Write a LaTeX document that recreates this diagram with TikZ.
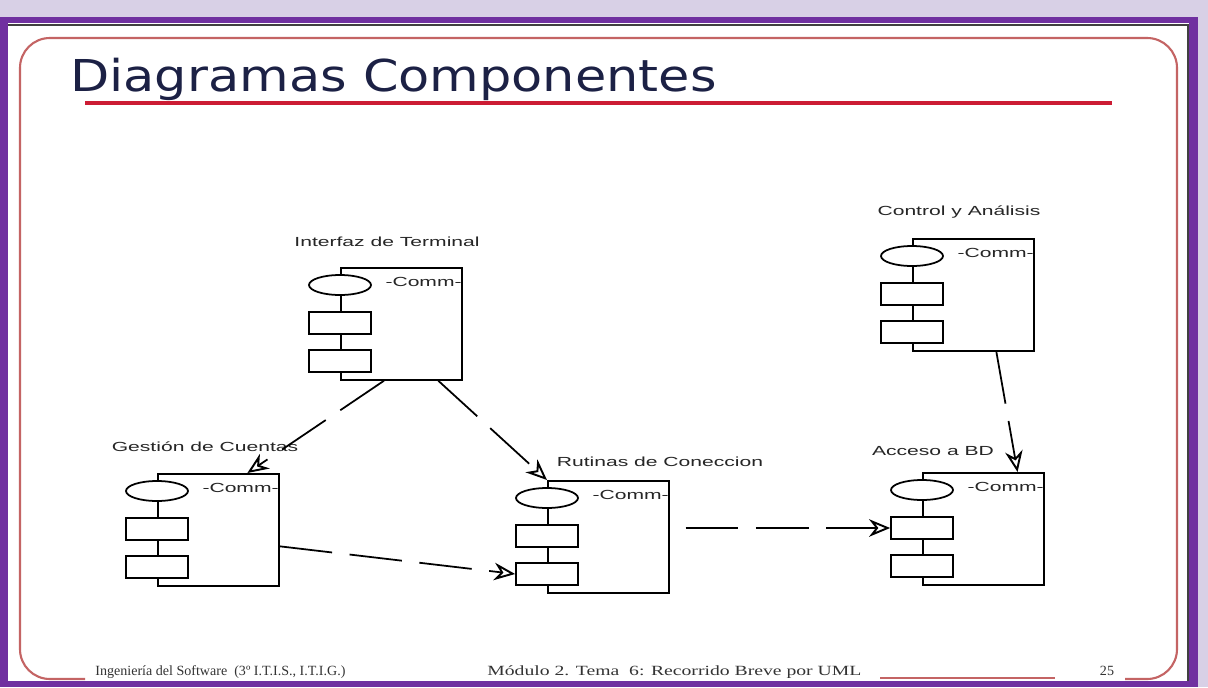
\documentclass[tikz,border=0pt]{standalone}
\usepackage{fontspec}
\setmainfont{Liberation Sans}
\newfontfamily\fontetichetta[FakeStretch=1.6]{Liberation Sans}
\newfontfamily\fonttitolo[FakeStretch=1.16]{DejaVu Sans}
\newfontfamily\fontpiede{Liberation Serif}
\usetikzlibrary{shapes.geometric, arrows.meta, calc}
\definecolor{viola}{RGB}{112,48,160}
\definecolor{lavanda}{RGB}{216,208,230}
\definecolor{cornice}{RGB}{196,100,100}
\definecolor{rosso}{RGB}{204,28,52}
\definecolor{blutitolo}{RGB}{28,33,69}

\tikzset{
    caja/.style = {draw, line width=1pt, minimum width=2.42cm, minimum height=2.24cm, inner sep=0pt},
    ovalo/.style = {ellipse, draw, fill=white, line width=1pt, minimum width=1.24cm, minimum height=0.40cm, inner sep=0pt},
    modulo/.style = {rectangle, draw, fill=white, line width=1pt, minimum width=1.24cm, minimum height=0.44cm, inner sep=0pt},
    etq/.style = {font=\fontetichetta\fontsize{7.5pt}{9pt}\selectfont, text=black!85, inner sep=0pt},
    piede/.style = {font=\fontpiede\fontsize{8pt}{9pt}\selectfont, text=black!80, inner sep=0pt},
    dipendenza/.style = {line width=1pt, dash pattern=on 30pt off 10pt, -{Stealth[open, length=12pt, width=10pt, line width=1.1pt]}}
}

\begin{document}
\begin{tikzpicture}[x=0.02cm, y=-0.02cm]
    % Parametri
    \pgfmathsetmacro{\larg}{121}
    \pgfmathsetmacro{\raggio}{17}
    \useasboundingbox (0,0) rectangle (1208,687);
    % Sfondo e bordo
    \fill[lavanda] (0,0) rectangle (1208,687);
    \fill[viola] (0,17) rectangle (1198,687);
    \fill[white] (8,23) rectangle (1189,681);
    \draw[black!75, line width=0.8pt] (8,25) -- (1188,25) -- (1188,681);
    \draw[cornice, line width=1.2pt, rounded corners=\raggio pt] (85,679) -- (20,679) -- (20,38) -- (1177,38) -- (1177,679) -- (1125,679);
    \draw[cornice, line width=1.2pt] (880,678) -- (1055,678);

    % Titolo
    \node[anchor=base west, inner sep=0pt, text=blutitolo, font=\fonttitolo\fontsize{25pt}{30pt}\selectfont] (titolo) at (70,91) {Diagramas Componentes};
    \draw[rosso, line width=2.3pt] (85,103) -- (1112,103);

    % Componenti
    \foreach \nome/\x/\y in {interfaz/340/267, gestion/157/473, rutinas/547/480, control/912/238, acceso/922/472}{
        \node[caja, anchor=north west] (\nome) at (\x,\y) {};
        \node[etq, anchor=east] (\nome-c) at (\x+\larg+1,\y+15) {-Comm-};
        \node[ovalo] (\nome-o) at (\x,\y+18) {};
        \node[modulo] (\nome-a) at (\x,\y+56) {};
        \node[modulo] (\nome-b) at (\x,\y+94) {};
    }
    \node[etq] (interfaz-t) at (387,242) {Interfaz de Terminal};
    \node[etq] (control-t) at (959,212) {Control y Análisis};
    \node[etq] (gestion-t) at (205,447) {Gestión de Cuentas};
    \node[etq] (rutinas-t) at (660,462) {Rutinas de Coneccion};
    \node[etq] (acceso-t) at (933,451) {Acceso a BD};

    % Dipendenze
    \draw[dipendenza] (interfaz.253) -- (gestion.63);
    \draw[dipendenza] (interfaz.303) -- (rutinas.north west);
    \draw[dipendenza] (gestion.-15) -- (rutinas-b.west);
    \draw[dipendenza, shorten <=9pt] (rutinas.east |- acceso-a.west) -- (acceso-a.west);
    \draw[dipendenza] (control.292) -- (acceso.59);

    % Piede
    \node[piede, anchor=base west] (piede-a) at (95,675) {Ingeniería del Software\ \ (3º I.T.I.S., I.T.I.G.)};
    \node[piede, anchor=base west] (piede-b) at (487,675) {\scalebox{1.4}[1]{Módulo 2. Tema\ \ 6: Recorrido Breve por UML}};
    \node[piede, anchor=base] (piede-n) at (1107,675) {25};
\end{tikzpicture}
\end{document}
